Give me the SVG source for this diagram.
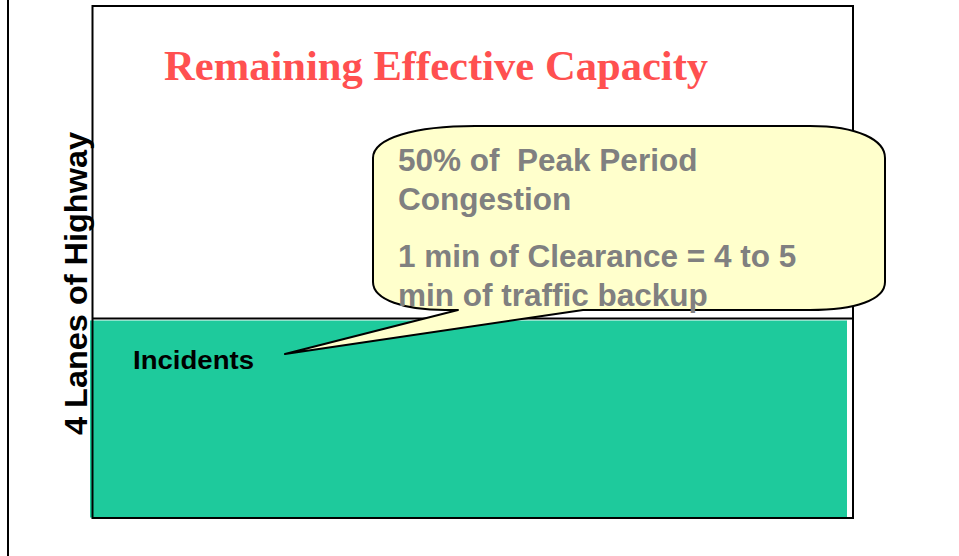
<svg xmlns="http://www.w3.org/2000/svg" width="959" height="556" viewBox="0 0 959 556">
<style>
.frame{fill:none;stroke:#000;stroke-width:2}
.callout{fill:#FFFFCC;stroke:#000;stroke-width:2;stroke-linejoin:round}
.ctext{font-family:"Liberation Sans",Arial,sans-serif;font-weight:bold;font-size:31.5px;fill:#808080}
.title{font-family:"Liberation Serif","Times New Roman",serif;font-weight:bold;font-size:42.6px;fill:#FF5050}
.label{font-family:"Liberation Sans",Arial,sans-serif;font-weight:bold;fill:#000}
</style>
<rect width="959" height="556" fill="#fff"/>
<line x1="8" y1="0" x2="8" y2="556" stroke="#000" stroke-width="2"/>
<g id="incidents-area">
<rect x="90" y="320.5" width="757" height="197" fill="#1ECA9C"/>
</g>
<g id="chart-frame">
<rect class="frame" x="92.5" y="6" width="760.5" height="512"/>
<line x1="92.5" y1="318.5" x2="853" y2="318.5" stroke="#000" stroke-width="2"/>
</g>
<g id="title">
<text class="title" x="164" y="79.5">Remaining Effective Capacity</text>
</g>
<g id="axis-label">
<text class="label" font-size="32" text-anchor="middle" transform="translate(86.5,283.5) rotate(-90)" textLength="303" lengthAdjust="spacingAndGlyphs">4 Lanes of Highway</text>
</g>
<g id="incidents-label">
<text class="label" font-size="25" x="133" y="369" textLength="121" lengthAdjust="spacingAndGlyphs">Incidents</text>
</g>
<g id="connectors">
<path class="callout" d="M373 158 C373 138 415 126 475 126 L810 126 C858 126 885 140 885 158 L885 282 C885 300 855 310 810 310 L583 310 L285 354 L458 310 L445 310 C405 310 373 300 373 282 Z"/>
</g>
<g id="callout-text">
<text class="ctext" x="398" y="171" xml:space="preserve">50% of  Peak Period</text>
<text class="ctext" x="398" y="210">Congestion</text>
<text class="ctext" x="398" y="267">1 min of Clearance = 4 to 5</text>
<text class="ctext" x="398" y="306">min of traffic backup</text>
</g>
</svg>
